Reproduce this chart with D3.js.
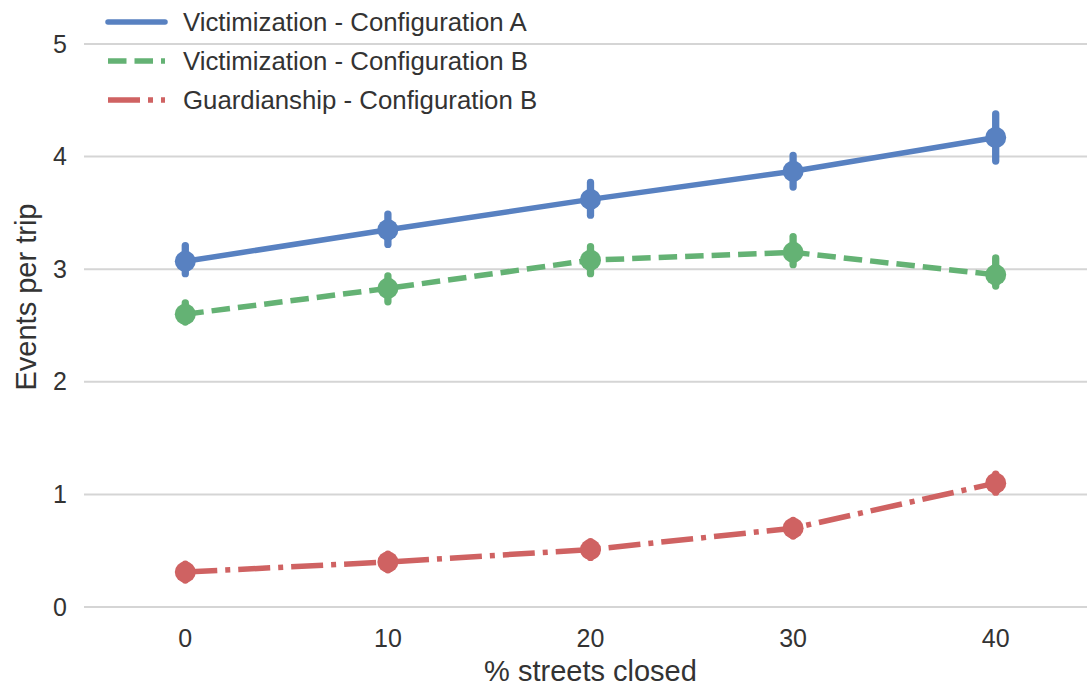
<!DOCTYPE html>
<html>
<head>
<meta charset="utf-8">
<script src="https://cdn.jsdelivr.net/npm/d3@7"></script>
<style>
  html, body { margin: 0; padding: 0; background: #fff; }
  svg text { font-family: "Liberation Sans", Arial, sans-serif; fill: #333; }
</style>
</head>
<body>
<svg id="chart" width="1087" height="688"></svg>
<script>
// ---- data ----
const categories = [0, 10, 20, 30, 40];
const yTicks = [0, 1, 2, 3, 4, 5];
const seriesNames = ["Victimization - Configuration A", "Victimization - Configuration B", "Guardianship - Configuration B"];
const victimA = [3.07, 3.35, 3.62, 3.87, 4.17];
const victimALow = [2.96, 3.22, 3.48, 3.73, 3.96];
const victimAHigh = [3.21, 3.49, 3.77, 4.01, 4.38];
const victimB = [2.60, 2.83, 3.08, 3.15, 2.95];
const victimBLow = [2.53, 2.71, 2.96, 3.04, 2.85];
const victimBHigh = [2.70, 2.94, 3.20, 3.29, 3.10];
const guard = [0.31, 0.40, 0.51, 0.70, 1.10];
const guardLow = [0.24, 0.33, 0.44, 0.63, 1.02];
const guardHigh = [0.38, 0.47, 0.58, 0.77, 1.18];

const colors = ["#5881c1", "#64b274", "#cf6262"];
const dashes = [null, "18.5,8", "32,8,5,8"];

const series = [
  { name: seriesNames[0], values: victimA, low: victimALow, high: victimAHigh },
  { name: seriesNames[1], values: victimB, low: victimBLow, high: victimBHigh },
  { name: seriesNames[2], values: guard, low: guardLow, high: guardHigh }
];

const svg = d3.select("#chart");
const left = 84, right = 1097, y0px = 607, y5px = 44;

const x = d3.scalePoint().domain(categories).range([left, right]).padding(0.5);
const y = d3.scaleLinear().domain([0, 5]).range([y0px, y5px]);

// gridlines
svg.append("g").selectAll("line").data(yTicks).join("line")
  .attr("x1", left).attr("x2", 1087)
  .attr("y1", d => y(d)).attr("y2", d => y(d))
  .attr("stroke", "#d5d5d5").attr("stroke-width", 2);

// y tick labels
svg.append("g").selectAll("text").data(yTicks).join("text")
  .attr("x", 67).attr("y", d => y(d))
  .attr("dy", "0.34em")
  .attr("text-anchor", "end")
  .style("font-size", "25px")
  .text(d => d);

// x tick labels
svg.append("g").selectAll("text").data(categories).join("text")
  .attr("x", d => x(d)).attr("y", 647)
  .attr("text-anchor", "middle")
  .style("font-size", "25px")
  .text(d => d);

// axis labels
svg.append("text")
  .attr("x", x(20)).attr("y", 681)
  .attr("text-anchor", "middle")
  .style("font-size", "29px")
  .text("% streets closed");
svg.append("text")
  .attr("transform", `translate(36,${297}) rotate(-90)`)
  .attr("text-anchor", "middle")
  .style("font-size", "29px")
  .text("Events per trip");

// series
const line = d3.line().x((d, i) => x(categories[i])).y(d => y(d));
series.forEach((s, k) => {
  const g = svg.append("g");
  g.selectAll("line.err").data(categories).join("line")
    .attr("class", "err")
    .attr("x1", d => x(d)).attr("x2", d => x(d))
    .attr("y1", (d, i) => y(s.low[i])).attr("y2", (d, i) => y(s.high[i]))
    .attr("stroke", colors[k]).attr("stroke-width", 7.3)
    .attr("stroke-linecap", "round");
  g.append("path").datum(s.values)
    .attr("d", line)
    .attr("fill", "none")
    .attr("stroke", colors[k]).attr("stroke-width", 5.5)
    .attr("stroke-dasharray", dashes[k]);
  g.selectAll("circle").data(s.values).join("circle")
    .attr("cx", (d, i) => x(categories[i])).attr("cy", d => y(d))
    .attr("r", 10.5)
    .attr("fill", colors[k]);
});

// legend
const legend = svg.append("g");
series.forEach((s, k) => {
  const ly = 22 + k * 39;
  legend.append("line")
    .attr("x1", 108).attr("x2", 165)
    .attr("y1", ly).attr("y2", ly)
    .attr("stroke", colors[k]).attr("stroke-width", 5.5)
    .attr("stroke-linecap", k === 0 ? "round" : "butt")
    .attr("stroke-dasharray", dashes[k]);
  legend.append("text")
    .attr("x", 183).attr("y", ly)
    .attr("dy", "0.36em")
    .style("font-size", "25.8px")
    .text(s.name);
});
</script>
</body>
</html>
